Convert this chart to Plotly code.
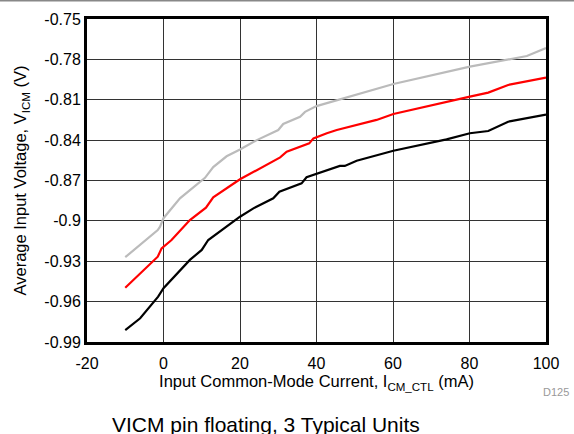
import plotly.graph_objects as go

# Gray unit
gray_x = [-10, -1.5, -0.9, 0, 4.3, 8.7, 10.85, 13, 16.5, 20, 24.4, 30, 31.3, 35.7, 37, 40, 46.1, 60.1, 80.1, 95, 100]
gray_y = [-0.927, -0.9068, -0.9043, -0.898, -0.8833, -0.8734, -0.868, -0.860, -0.852, -0.847, -0.840, -0.8325,
          -0.828, -0.8226, -0.819, -0.8147, -0.8097, -0.7983, -0.7854, -0.7775, -0.7715]

# Red unit
red_x = [-10, -1.5, -0.5, 2.1, 6.9, 11.1, 13, 20, 30.5, 32.2, 38.1, 39.2, 42.7, 45.3, 55.7, 60.1, 80.1, 84.9, 90.1, 100]
red_y = [-0.9497, -0.9266, -0.9204, -0.9142, -0.8994, -0.8902, -0.8825, -0.8691, -0.8528, -0.8486, -0.8424,
         -0.8387, -0.8349, -0.8325, -0.825, -0.8206, -0.8077, -0.8047, -0.7990, -0.7935]

# Black unit
black_x = [-10, -6.1, -1.4, 0, 6.9, 10, 11.7, 15.2, 20, 23.5, 28.7, 30.3, 32.6, 36.1, 37.4, 40, 46.1, 47.4, 50.5,
           60.1, 74, 80.1, 84.9, 90.1, 100]
black_y = [-0.9811, -0.9724, -0.9563, -0.950, -0.929, -0.9216, -0.9142, -0.9068, -0.8969, -0.8907, -0.8832,
           -0.8783, -0.8758, -0.8721, -0.8676, -0.8652, -0.8592, -0.8592, -0.8553, -0.8479, -0.8394, -0.8349,
           -0.8332, -0.8263, -0.8210]

y_ticks = [-0.75, -0.78, -0.81, -0.84, -0.87, -0.9, -0.93, -0.96, -0.99]
y_tick_text = ["-0.75", "-0.78", "-0.81", "-0.84", "-0.87", "-0.9", "-0.93", "-0.96", "-0.99"]
x_ticks = [-20, 0, 20, 40, 60, 80, 100]
x_tick_text = ["-20", "0", "20", "40", "60", "80", "100"]

FONT = "Liberation Sans, Arial, sans-serif"

fig = go.Figure()
fig.add_trace(go.Scatter(x=gray_x, y=gray_y, mode="lines", line=dict(color="#BBBBBB", width=2.2)))
fig.add_trace(go.Scatter(x=red_x, y=red_y, mode="lines", line=dict(color="#FF0000", width=2.2)))
fig.add_trace(go.Scatter(x=black_x, y=black_y, mode="lines", line=dict(color="#000000", width=2.2)))

L, R, T, B = 87, 28, 19, 92
W, H = 574, 434
pw, ph = W - L - R, H - T - B

fig.update_layout(
    width=W, height=H,
    margin=dict(l=L, r=R, t=T, b=B, autoexpand=False),
    paper_bgcolor="white", plot_bgcolor="white",
    showlegend=False,
    font=dict(family=FONT, size=16, color="black"),
    xaxis=dict(
        range=[-20, 100], tickvals=x_ticks, ticktext=x_tick_text, showgrid=True, gridcolor="#333333", gridwidth=1,
        showline=True, mirror=True, linecolor="black", linewidth=3, zeroline=False, ticks="",
        tickfont=dict(size=16), automargin=False, ticklabelstandoff=5,
        title=dict(text="Input Common-Mode Current, I<sub>CM_CTL</sub> (mA)", font=dict(size=16.5), standoff=2),
    ),
    yaxis=dict(
        range=[-0.99, -0.75], tickvals=y_ticks, ticktext=y_tick_text, showgrid=True, gridcolor="#333333",
        gridwidth=1, showline=True, mirror=True, linecolor="black", linewidth=3, zeroline=False, ticks="",
        tickfont=dict(size=16), automargin=False,
        title=dict(text="Average Input Voltage, V<sub>ICM</sub> (V)", font=dict(size=16.5), standoff=14),
    ),
    annotations=[
        dict(text="D125", xref="paper", yref="paper", x=(556 - L) / pw, y=1 - (392 - T) / ph,
             showarrow=False, font=dict(size=11, color="#999999"), xanchor="center", yanchor="middle"),
        dict(text="VICM pin floating, 3 Typical Units", xref="paper", yref="paper",
             x=(266 - L) / pw, y=1 - (424 - T) / ph, showarrow=False,
             font=dict(size=21, color="black"), xanchor="center", yanchor="middle"),
    ],
    shapes=[
        dict(type="line", xref="paper", yref="paper", x0=-L / pw, x1=(W - L) / pw,
             y0=1 + (T - 0.5) / ph, y1=1 + (T - 0.5) / ph, line=dict(color="#888888", width=2)),
    ],
)

fig.write_html("out.html", config={"displayModeBar": False},
               post_script="document.body.style.margin='0';document.body.style.overflow='hidden';")
